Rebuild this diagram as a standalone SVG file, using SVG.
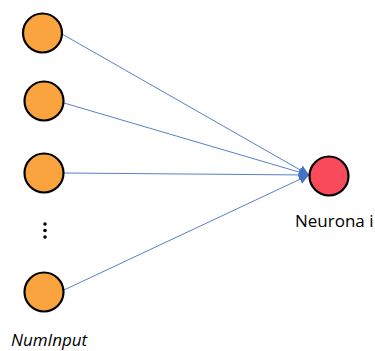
<svg xmlns="http://www.w3.org/2000/svg" width="375" height="351" viewBox="0 0 375 351">
<defs>
<style>
.in{fill:#F9A43E;stroke:#000;stroke-width:2.2}
.out{fill:#F94A5C;stroke:#000;stroke-width:2.2}
.c{stroke:#4472C4;stroke-width:0.9;fill:none}
text{font-family:"Open Sans","Liberation Sans",sans-serif;fill:#000}
</style>
<marker id="ah" viewBox="0 0 10 10" refX="10" refY="5" markerWidth="10" markerHeight="10" markerUnits="userSpaceOnUse" orient="auto">
<path d="M0,0 L10,5 L0,10 Z" fill="#4472C4"/>
</marker>
</defs>
<rect width="375" height="351" fill="#fff"/>
<g id="connectors">
<line class="c" x1="62" y1="34" x2="309" y2="175" marker-end="url(#ah)"/>
<line class="c" x1="64" y1="103" x2="309" y2="175" marker-end="url(#ah)"/>
<line class="c" x1="64" y1="173" x2="309" y2="175" marker-end="url(#ah)"/>
<line class="c" x1="64" y1="290" x2="309" y2="175" marker-end="url(#ah)"/>
</g>
<g id="in1"><circle class="in" cx="42.5" cy="33" r="19.5"/></g>
<g id="in2"><circle class="in" cx="44" cy="101" r="19.5"/></g>
<g id="in3"><circle class="in" cx="44" cy="173" r="19.5"/></g>
<g id="dots">
<circle cx="45" cy="224" r="1.8" fill="#000"/>
<circle cx="45" cy="230.5" r="1.8" fill="#000"/>
<circle cx="45" cy="237" r="1.8" fill="#000"/>
</g>
<g id="in4"><circle class="in" cx="44" cy="292" r="19.5"/></g>
<g id="neuron"><circle class="out" cx="329" cy="176" r="19.5"/></g>
<text x="295" y="227" font-size="17">Neurona i</text>
<text x="11" y="345.5" font-size="17" font-style="italic">NumInput</text>
</svg>
